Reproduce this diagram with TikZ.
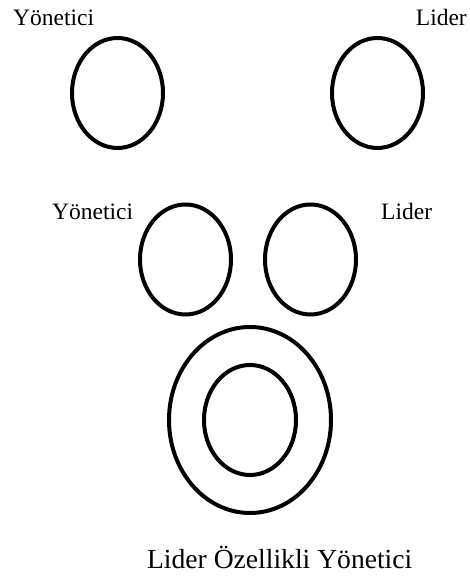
\documentclass[tikz,border=0pt]{standalone}
\usepackage{fontspec}
\setmainfont{Liberation Serif}
\usetikzlibrary{shapes.geometric}

\tikzset{
	ring/.style={draw, ellipse, line width=4pt, inner sep=0pt},
	small ring/.style={ring, minimum width=91pt, minimum height=110pt},
	label text/.style={font=\fontsize{23.5}{28}\selectfont, inner sep=0pt}
}

\begin{document}
\begin{tikzpicture}[x=1pt, y=1pt]
		\useasboundingbox (0,0) rectangle (470,576);
		\node (yon) [label text, anchor=base west] at (13,550) {Yönetici};
		\node (lid) [label text, anchor=base east] at (467,550) {Lider};
		\node (yonring) [small ring] at (117.5,483) {};
		\node (lidring) [small ring] at (377.5,483) {};
		\node (yonb) [label text, anchor=base west] at (52,356) {Yönetici};
		\node (lidb) [label text, anchor=base west] at (381,356) {Lider};
		\node (yonbring) [small ring] at (185.5,316.5) {};
		\node (lidbring) [small ring] at (310.5,316.5) {};
		\node (outer) [ring, minimum width=162pt, minimum height=186pt] at (250,156) {};
		\node (inner) [ring, minimum width=92pt, minimum height=110pt] at (outer.center) {};
		\node (both) [label text, font=\fontsize{27.6}{32}\selectfont, anchor=base] at (279.7,8) {Lider Özellikli Yönetici};
		\end{tikzpicture}
\end{document}
